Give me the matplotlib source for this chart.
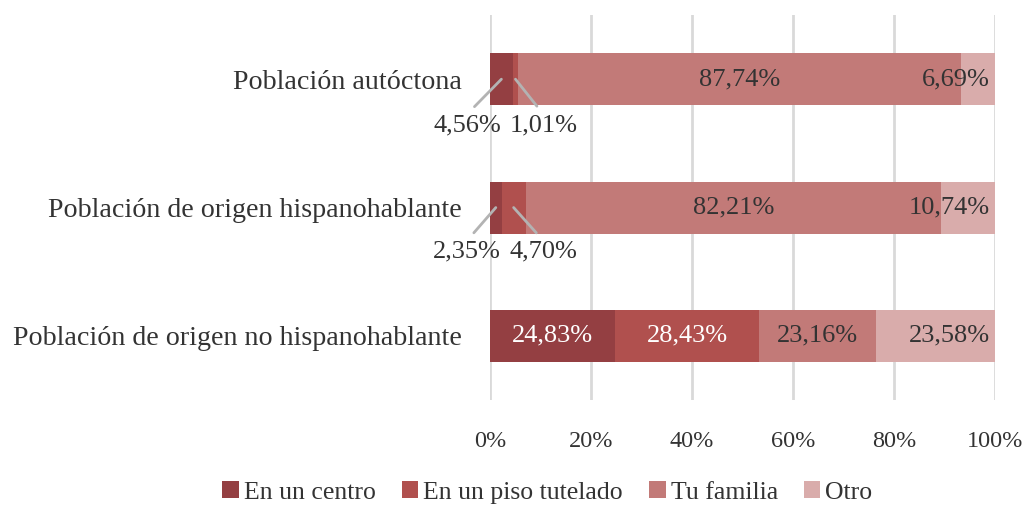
import matplotlib.pyplot as plt
import numpy as np

plt.rcParams['font.family'] = ['Liberation Serif', 'DejaVu Serif']

# data
categorias = ['Población autóctona',
              'Población de origen hispanohablante',
              'Población de origen no hispanohablante']
series = ['En un centro', 'En un piso tutelado', 'Tu familia', 'Otro']
centro = [4.56, 2.35, 24.83]
piso = [1.01, 4.70, 28.43]
familia = [87.74, 82.21, 23.16]
otro = [6.69, 10.74, 23.58]

valores = [centro, piso, familia, otro]
colores = ['#943F42', '#B0504E', '#C27A78', '#D9ACAB']
texto_oscuro = '#333333'


def fmt(v):
    return f'{v:.2f}%'.replace('.', ',')


fig = plt.figure(figsize=(10.27, 5.09), dpi=100)
ax = fig.add_axes([0.477, 0.214, 0.492, 0.7565])

y = np.arange(len(categorias))
izq = np.zeros(len(categorias))
barras = []
for nombre, vals, col in zip(series, valores, colores):
    b = ax.barh(y, vals, left=izq, height=0.405, color=col, label=nombre, zorder=2)
    barras.append(b)
    izq = izq + np.array(vals)

# etiquetas de datos
for i in range(len(categorias)):
    inicio = 0
    for s, vals in enumerate(valores):
        v = vals[i]
        centro_x = inicio + v / 2
        if s == 3:
            ax.text(99.0, i, fmt(v), ha='right', va='center', fontsize=19,
                    color=texto_oscuro, zorder=3)
        elif v > 15:
            c = 'white' if s < 2 else texto_oscuro
            ax.text(centro_x, i, fmt(v), ha='center', va='center', fontsize=19,
                    color=c, zorder=3)
        else:
            # etiquetas pequeñas debajo de la barra con línea guía
            tx = -4.55 if s == 0 else 10.6
            ty = i + (0.36 if i == 0 else 0.345)
            ax.annotate(fmt(v), xy=(centro_x, i), xytext=(tx, ty),
                        ha='center', va='center', fontsize=19, color=texto_oscuro,
                        annotation_clip=False, zorder=3,
                        arrowprops=dict(arrowstyle='-', color='#B3B3B3', lw=2,
                                        relpos=(0.5, 1.0), shrinkA=5, shrinkB=0))
        inicio += v

ax.set_xlim(0, 100)
ax.set_ylim(2.5, -0.5)
ax.set_yticks(y)
ax.set_yticklabels(categorias, fontsize=20.2, color=texto_oscuro)
ax.set_xticks(np.arange(0, 101, 20))
ax.set_xticklabels([f'{t}%' for t in range(0, 101, 20)], fontsize=17.5, color=texto_oscuro)
ax.tick_params(axis='both', length=0)
ax.tick_params(axis='y', pad=20)
ax.tick_params(axis='x', pad=22)
ax.grid(axis='x', color='#D9D9D9', lw=2, zorder=0)
for sp in ax.spines.values():
    sp.set_visible(False)

fig.legend(handles=barras, labels=series, loc='lower center',
           bbox_to_anchor=(0.533, -0.035), ncol=4, frameon=False, fontsize=18.5,
           handlelength=0.65, handleheight=0.65, handletextpad=0.2, columnspacing=1.0,
           labelcolor=texto_oscuro)

fig.savefig('out.png', dpi=100)
